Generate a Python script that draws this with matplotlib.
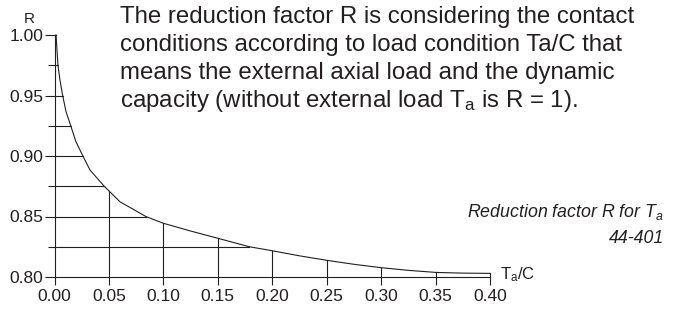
import numpy as np
import matplotlib
matplotlib.use("Agg")
import matplotlib.pyplot as plt

# curve: R against Ta/C
ta_c = [0.0014, 0.0032, 0.0050, 0.0075, 0.0106, 0.0149, 0.0197, 0.0261, 0.0326,
        0.0457, 0.0601, 0.0839, 0.10, 0.125, 0.15, 0.179, 0.20, 0.225, 0.25,
        0.275, 0.30, 0.325, 0.35, 0.375, 0.40]
r_val = [1.000, 0.975, 0.9628, 0.950, 0.9366, 0.925, 0.9118, 0.900, 0.8884,
         0.875, 0.8622, 0.850, 0.8444, 0.8380, 0.832, 0.825, 0.8217, 0.8175, 0.8138,
         0.8105, 0.8077, 0.8055, 0.8038, 0.8032, 0.8030]

x_ticks = [0.00, 0.05, 0.10, 0.15, 0.20, 0.25, 0.30, 0.35, 0.40]
y_major = [0.80, 0.85, 0.90, 0.95, 1.00]
y_minor = [0.825, 0.875, 0.925, 0.975]

intro = ["The reduction factor R is considering the contact",
         "conditions according to load condition Ta/C that",
         "means the external axial load and the dynamic",
         r"capacity (without external load $\mathrm{T_a}$ is R = 1)."]
caption = ["Reduction factor R for $T_a$", "44-401"]

plt.rcParams['font.family'] = ['Liberation Sans', 'DejaVu Sans']
plt.rcParams['mathtext.fontset'] = 'custom'
plt.rcParams['mathtext.rm'] = 'Liberation Sans'
plt.rcParams['mathtext.it'] = 'Liberation Sans:italic'

ink = '#231f20'
lw = 0.8

fig = plt.figure(figsize=(6.81, 3.11), dpi=100)
ax = fig.add_axes([54.5 / 681, 34 / 311, 435.5 / 681, 242 / 311])
ax.set_xlim(0, 0.40)
ax.set_ylim(0.80, 1.00)

ax.plot(ta_c, r_val, color=ink, lw=lw, clip_on=False)

# grid only below the curve
xs = np.array(ta_c)
rs = np.array(r_val)
for y in y_minor + y_major[1:-1]:
    x_end = np.interp(y, rs[::-1], xs[::-1])
    ax.plot([0, x_end], [y, y], color=ink, lw=lw, clip_on=False)
for x in x_ticks[1:]:
    ax.plot([x, x], [0.80, np.interp(x, xs, rs)], color=ink, lw=lw, clip_on=False)
ax.plot([0, xs[0]], [1.0, 1.0], color=ink, lw=lw, clip_on=False)

for s in ['top', 'right']:
    ax.spines[s].set_visible(False)
for s in ['left', 'bottom']:
    ax.spines[s].set_color(ink)
    ax.spines[s].set_linewidth(lw)

ax.set_xticks(x_ticks)
ax.set_xticklabels([f"{v:.2f}" for v in x_ticks])
ax.set_yticks(y_major)
ax.set_yticklabels([f"{v:.2f}" for v in y_major])
ax.set_yticks(y_minor, minor=True)
ax.tick_params(axis='x', length=5.8, width=lw, color=ink, labelsize=12.5,
               labelcolor=ink, pad=3)
ax.tick_params(axis='y', which='major', length=7.2, width=lw, color=ink,
               labelsize=12.5, labelcolor=ink, pad=1)
ax.tick_params(axis='y', which='minor', length=5, width=lw, color=ink)

fig.text(29 / 681, 1 - 19 / 311, "R", fontsize=11, color=ink, ha='center', va='center')
fig.text(500 / 681, 1 - 275 / 311, r"$\mathrm{T_a}$/C", fontsize=12, color=ink,
         ha='left', va='center')

# text block, one line at a time
for i, line in enumerate(intro):
    fig.text(120 / 681, 1 - (22.7 + 28 * i) / 311, line, fontsize=17.3, color=ink,
             ha='left', va='baseline')
for i, line in enumerate(caption):
    fig.text(664 / 681, 1 - (216.7 + 26.7 * i) / 311, line, fontsize=12.8, color=ink,
             style='italic', ha='right', va='baseline')

fig.savefig('out.png', dpi=100)
